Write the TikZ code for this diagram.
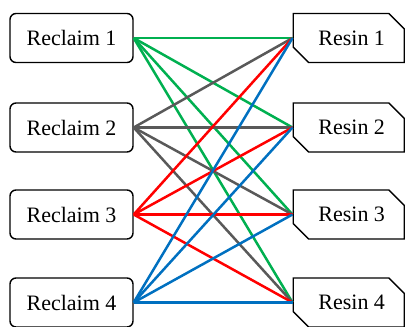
\documentclass[tikz,border=0pt]{standalone}
\usepackage{fontspec}
\setmainfont{Liberation Serif}
\usetikzlibrary{shapes.misc}

\definecolor{linkgreen}{RGB}{0,176,80}
\definecolor{linkgray}{RGB}{89,89,89}
\definecolor{linkred}{RGB}{255,0,0}
\definecolor{linkblue}{RGB}{0,112,192}

\tikzset{
  reclaim/.style={draw, line width=1.4pt, rounded corners=6pt,
    minimum width=123pt, minimum height=49pt, inner sep=0pt,
    font=\fontsize{22}{24}\selectfont},
  resin/.style={draw, line width=1.4pt, chamfered rectangle,
    chamfered rectangle corners={north east,south west},
    chamfered rectangle sep=8pt,
    minimum width=111pt, minimum height=49pt, inner sep=0pt,
    font=\fontsize{22}{24}\selectfont},
  link/.style={line width=2.5pt}
}

\begin{document}
\begin{tikzpicture}[x=1pt,y=-1pt]
    \useasboundingbox (0,0) rectangle (405,327);
    % left column
    \node[reclaim] (rc1) at (71.5,38) {Reclaim 1};
    \node[reclaim] (rc2) at (71.5,127.5) {Reclaim 2};
    \node[reclaim] (rc3) at (71.5,214.5) {Reclaim 3};
    \node[reclaim] (rc4) at (71.5,302.5) {Reclaim 4};
    % right column
    \node[resin] (rs1) at (348.7,38) {\hspace{6pt}Resin 1};
    \node[resin] (rs2) at (348.7,127.5) {\hspace{6pt}Resin 2};
    \node[resin] (rs3) at (348.7,214.5) {\hspace{6pt}Resin 3};
    \node[resin] (rs4) at (348.7,302.5) {\hspace{6pt}Resin 4};
    % links
    \foreach \i/\c in {1/linkgreen,2/linkgray,3/linkred,4/linkblue}
      \foreach \j in {1,...,4}
        \draw[link,\c] (rc\i.east) -- (rs\j.west);
\end{tikzpicture}
\end{document}
